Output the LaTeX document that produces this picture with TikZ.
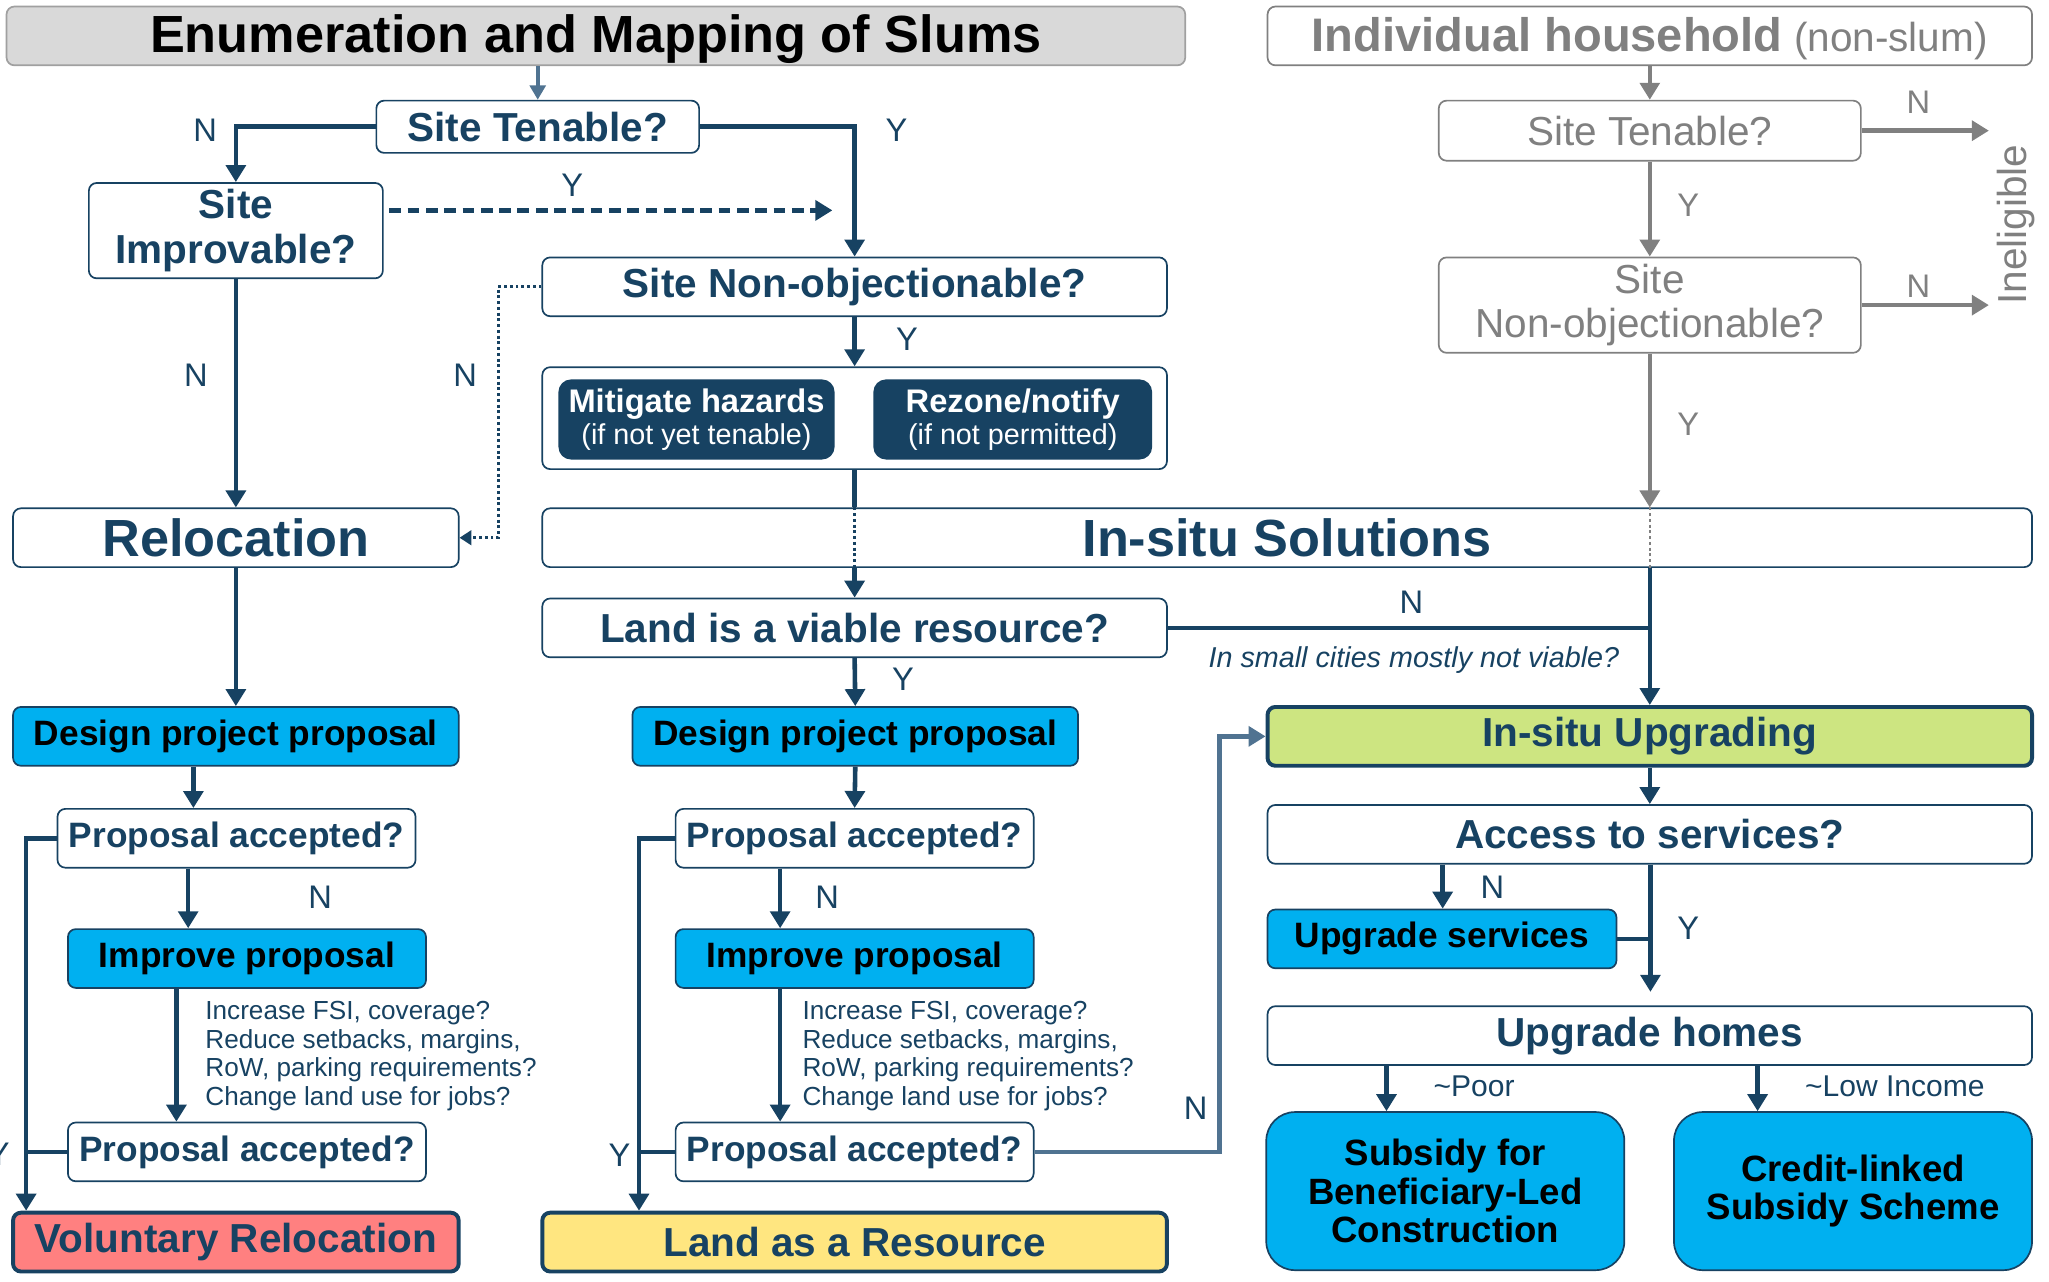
\documentclass[tikz,border=0pt]{standalone}
\usepackage{fontspec}
\setmainfont{Liberation Sans}
\usetikzlibrary{arrows.meta}
\definecolor{dblue}{RGB}{23,66,98}
\definecolor{steel}{RGB}{80,115,145}
\definecolor{greyc}{RGB}{128,128,128}
\definecolor{cyanbox}{RGB}{0,176,240}
\definecolor{greenbox}{RGB}{205,229,129}
\definecolor{salmonbox}{RGB}{255,128,128}
\definecolor{yellowbox}{RGB}{255,230,128}
\definecolor{hdrfill}{RGB}{217,217,217}
\definecolor{hdrdraw}{RGB}{160,160,160}
\newcommand\fsz[2]{\fontsize{#1}{#2}\selectfont}
\begin{document}
\begin{tikzpicture}[x=1pt,y=-1pt,
  base/.style={rounded corners=6pt, inner sep=0pt, align=center, line width=1.3pt},
  qbox/.style={base, draw=dblue, fill=white, text=dblue, font=\bfseries\fsz{31}{34}},
  bigbox/.style={qbox, font=\bfseries\fsz{40}{44}},
  cbox/.style={base, draw=dblue, fill=cyanbox, text=black, font=\bfseries\fsz{27}{30}},
  dbox/.style={base, rounded corners=9pt, draw=dblue, fill=dblue, text=white},
  endbox/.style={qbox, line width=3pt},
  gbox/.style={base, draw=greyc, fill=white, text=greyc, font=\fsz{31}{34}},
  schbox/.style={cbox, rounded corners=22pt, font=\bfseries\fsz{28}{29.5}},
  conn/.style={draw=dblue, line width=3.5pt},
  arr/.style={conn, -{Triangle[width=15pt,length=13pt]}},
  garr/.style={draw=greyc, line width=3.5pt, -{Triangle[width=15pt,length=13pt]}},
  sarr/.style={draw=steel, line width=3.5pt, -{Triangle[width=15pt,length=13pt]}},
  dotc/.style={draw=dblue, line width=2.2pt, dash pattern=on 2.2pt off 2.2pt},
  lbl/.style={text=dblue, font=\fsz{25}{28}, inner sep=0pt},
  glbl/.style={text=greyc, font=\fsz{25}{28}, inner sep=0pt},
  note/.style={text=dblue, font=\fsz{20}{22}, align=left, inner sep=0pt, anchor=north west},
]
\useasboundingbox (0,0) rectangle (1568,981);

% ---------- headers ----------
\node[base, draw=hdrdraw, fill=hdrfill, text=black, font=\bfseries\fsz{40}{44}, text depth=3pt,
      minimum width=902, minimum height=45] (hdrL) at (456,27.5) {Enumeration and Mapping of Slums};
\node[base, draw=greyc, fill=white, text=greyc, text depth=3pt, minimum width=585, minimum height=45]
      (hdrR) at (1262.5,27.5) {{\bfseries\fsz{36}{40}Individual household}\hspace{9pt}{\fsz{31}{34}(non-slum)}};

% ---------- left/middle flow ----------
\node[qbox, minimum width=247, minimum height=40] (tenA) at (411.5,97) {Site Tenable?};
\node[qbox, minimum width=225, minimum height=73] (impr) at (180.5,176.5) {Site\\Improvable?};
\node[qbox, minimum width=478, minimum height=45] (nonobj) at (654,219.5) {Site Non-objectionable?};
\node[base, draw=dblue, fill=white, minimum width=478, minimum height=78] (cont) at (654,320) {};
\node[dbox, minimum width=210, minimum height=60] (mit) at (533,321)
      {{\bfseries\fsz{25}{26}Mitigate hazards}\\[2pt]{\fsz{22}{24}(if not yet tenable)}};
\node[dbox, minimum width=212, minimum height=60] (rez) at (775,321)
      {{\bfseries\fsz{25}{26}Rezone/notify}\\[2pt]{\fsz{22}{24}(if not permitted)}};
\node[bigbox, minimum width=341, minimum height=45] (reloc) at (180.5,411.5) {Relocation};
\node[bigbox, minimum width=1140, minimum height=45] (insol) at (985,411.5) {In-situ Solutions};
\node[qbox, minimum width=478, minimum height=45] (land) at (654,480.5) {Land is a viable resource?};

\node[cbox, minimum width=341, minimum height=45] (dpp1) at (180.5,563.5) {Design project proposal};
\node[cbox, minimum width=341, minimum height=45] (dpp2) at (654.5,563.5) {Design project proposal};
\node[qbox, fill=greenbox, line width=3pt, minimum width=585, minimum height=45] (iup) at (1262.5,563.5) {In-situ Upgrading};

\node[qbox, font=\bfseries\fsz{27}{30}, minimum width=274, minimum height=45] (pa1) at (181,641.5) {Proposal accepted?};
\node[cbox, minimum width=274, minimum height=45] (ip1) at (189,733.5) {Improve proposal};
\node[qbox, font=\bfseries\fsz{27}{30}, minimum width=274, minimum height=45] (pa1b) at (189,881.5) {Proposal accepted?};
\node[endbox, fill=salmonbox, minimum width=341, minimum height=45] (vr) at (180.5,950.5) {Voluntary Relocation};

\node[qbox, font=\bfseries\fsz{27}{30}, minimum width=274, minimum height=45] (pa2) at (654,641.5) {Proposal accepted?};
\node[cbox, minimum width=274, minimum height=45] (ip2) at (654,733.5) {Improve proposal};
\node[qbox, font=\bfseries\fsz{27}{30}, minimum width=274, minimum height=45] (pa2b) at (654,881.5) {Proposal accepted?};
\node[endbox, fill=yellowbox, minimum width=478, minimum height=45] (lar) at (654,950.5) {Land as a Resource};

\node[note] (n1) at (157,766) {Increase FSI, coverage?\\Reduce setbacks, margins,\\RoW, parking requirements?\\Change land use for jobs?};
\node[note] (n2) at (614,766) {Increase FSI, coverage?\\Reduce setbacks, margins,\\RoW, parking requirements?\\Change land use for jobs?};

% ---------- right flow ----------
\node[qbox, minimum width=585, minimum height=45] (acc) at (1262.5,638.5) {Access to services?};
\node[cbox, minimum width=267, minimum height=45] (ups) at (1103.5,718.5) {Upgrade services};
\node[qbox, minimum width=585, minimum height=45] (uph) at (1262.5,792.5) {Upgrade homes};
\node[schbox, minimum width=274, minimum height=121] (sub) at (1106,911.5) {Subsidy for\\Beneficiary-Led\\Construction};
\node[schbox, minimum width=274, minimum height=121] (cls) at (1418,911.5) {Credit-linked\\Subsidy Scheme};

\node[gbox, minimum width=323, minimum height=46] (gten) at (1262.5,100) {Site Tenable?};
\node[gbox, minimum width=323, minimum height=73] (gnon) at (1262.5,233.5) {Site\\Non-objectionable?};
\node[rotate=90, text=greyc, font=\fsz{31}{34}, inner sep=0pt] (inel) at (1543,172) {Ineligible};

% ---------- helper coordinates ----------
\coordinate (dashend) at (637,161);
\coordinate (dashstart) at (298,161);
\coordinate (xa) at (148,0);
\coordinate (xb) at (144,0);
\coordinate (xc) at (135,0);
\coordinate (xy1) at (20,0);
\coordinate (xd) at (597,0);
\coordinate (xy2) at (489,0);
\coordinate (xn) at (933,0);
\coordinate (xs) at (1104,0);
\coordinate (xh1) at (1061,0);
\coordinate (xh2) at (1345,0);
\coordinate (yend) at (1263,759);
\coordinate (gN1) at (1522,100);
\coordinate (gN2) at (1522,235);

% ---------- connectors ----------
\draw[draw=steel, line width=2.8pt, -{Triangle[width=12pt,length=11pt]}] (tenA.north |- hdrL.south) -- (tenA.north);
\draw[arr] (tenA.west) -| (impr.north);
\draw[arr] (tenA.east) -| (nonobj.north);
\draw[conn, dash pattern=on 9pt off 5pt, -{Triangle[width=15pt,length=13pt]}] (dashstart) -- (dashend);
\draw[dotc, -{Triangle[width=11pt,length=9pt]}] (nonobj.west) -- ++(-33,0) |- (reloc.east);
\draw[arr] (impr.south) -- (reloc.north);
\draw[arr] (nonobj.south) -- (cont.north);
\draw[conn] (cont.south) -- (cont.south |- insol.north);
\draw[dotc, line width=1.8pt] (cont.south |- insol.north) -- (cont.south |- insol.south);
\draw[arr] (cont.south |- insol.south) -- (land.north);
\draw[arr] (land.south) -- (dpp2.north);
\draw[arr] (reloc.south) -- (dpp1.north);

\draw[conn] (land.east) -- (land.east -| iup.north);
\draw[garr] (gnon.south) -- (gnon.south |- insol.north);
\draw[draw=greyc, line width=1.8pt, dash pattern=on 2.2pt off 2.2pt] (gnon.south |- insol.north) -- (gnon.south |- insol.south);
\draw[arr] (gnon.south |- insol.south) -- (iup.north);

\draw[arr] (dpp1.south -| xa) -- (pa1.north -| xa);
\draw[arr] (pa1.south -| xb) -- (ip1.north -| xb);
\draw[arr] (ip1.south -| xc) -- (pa1b.north -| xc);
\draw[arr] (pa1.west) -| (vr.north -| xy1);
\draw[conn] (pa1b.west) -- (pa1b.west -| xy1);

\draw[arr] (dpp2.south) -- (pa2.north);
\draw[arr] (pa2.south -| xd) -- (ip2.north -| xd);
\draw[arr] (ip2.south -| xd) -- (pa2b.north -| xd);
\draw[arr] (pa2.west) -| (lar.north -| xy2);
\draw[conn] (pa2b.west) -- (pa2b.west -| xy2);
\draw[sarr] (pa2b.east) -| (xn |- iup.west) -- (iup.west);

\draw[arr] (iup.south) -- (acc.north);
\draw[arr] (acc.south -| xs) -- (ups.north -| xs);
\draw[arr] (acc.south -| yend) -- (yend);
\draw[conn] (ups.east) -- (ups.east -| yend);
\draw[arr] (uph.south -| xh1) -- (sub.north -| xh1);
\draw[arr] (uph.south -| xh2) -- (cls.north -| xh2);

\draw[garr] (hdrR.south -| gten.north) -- (gten.north);
\draw[garr] (gten.east) -- (gN1);
\draw[garr] (gten.south) -- (gnon.north);
\draw[garr] (gnon.east) -- (gnon.east -| gN2);

% ---------- labels ----------
\node[lbl] (lN1) at (157,100) {N};
\node[lbl] (lY1) at (686,100) {Y};
\node[lbl] (lY2) at (438,142) {Y};
\node[lbl] (lN2) at (150,287) {N};
\node[lbl] (lN3) at (356,287) {N};
\node[lbl] (lY3) at (694,260) {Y};
\node[lbl] (lN4) at (1080,461) {N};
\node[text=dblue, font=\itshape\fsz{22}{24}, inner sep=0pt] (ital) at (1082,505) {In small cities mostly not viable?};
\node[lbl] (lY4) at (691,520) {Y};
\node[lbl] (lN5) at (245,687) {N};
\node[lbl] (lN6) at (633,687) {N};
\node[lbl] (lY5) at (-1,883) {Y};
\node[lbl] (lY6) at (474,884) {Y};
\node[lbl] (lN7) at (915,848) {N};
\node[lbl] (lN8) at (1142,679) {N};
\node[lbl] (lY7) at (1292,710) {Y};
\node[lbl, font=\fsz{23}{26}] (lpoor) at (1128,831) {\textasciitilde Poor};
\node[lbl, font=\fsz{23}{26}] (llow) at (1450,831) {\textasciitilde Low Income};
\node[glbl] (gN1l) at (1468,78) {N};
\node[glbl] (gY1l) at (1292,157) {Y};
\node[glbl] (gN2l) at (1468,219) {N};
\node[glbl] (gY2l) at (1292,325) {Y};
\end{tikzpicture}
\end{document}
